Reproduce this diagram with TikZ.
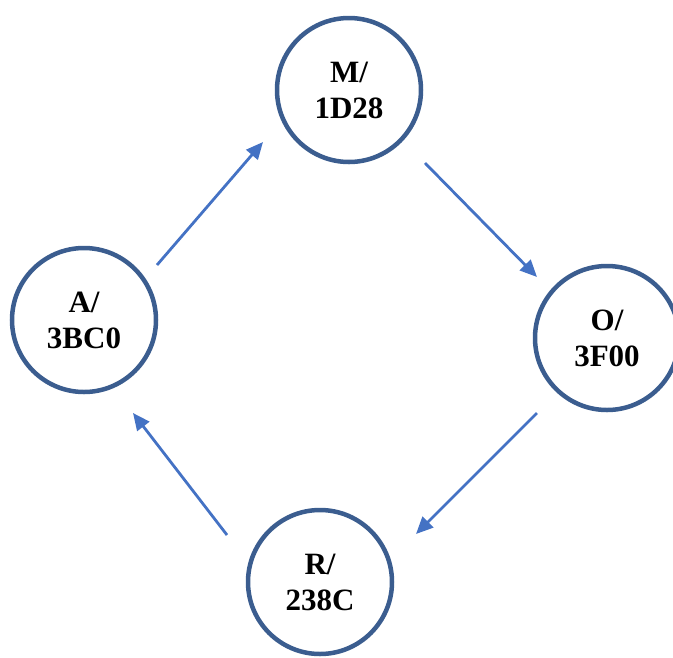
\documentclass[tikz,border=0pt]{standalone}
\usepackage{fontspec}
\setmainfont{Liberation Serif}
\usetikzlibrary{arrows.meta}
\definecolor{ringblue}{RGB}{59,93,143}
\definecolor{arrowblue}{RGB}{68,114,196}
\begin{document}
\begin{tikzpicture}[x=1pt,y=-1pt,
  state/.style={circle, draw=ringblue, line width=4.5pt, minimum size=144pt,
    inner sep=0pt, align=center, font=\fontsize{31}{36}\selectfont\bfseries},
  flow/.style={draw=arrowblue, line width=2.8pt,
    -{Triangle[length=17pt,width=15pt]}}]
  \useasboundingbox (0,0) rectangle (673,657);
  % states
  \node[state] (M) at (349,90)  {M/\\1D28};
  \node[state] (A) at (84,320)  {A/\\3BC0};
  \node[state] (O) at (607,338) {O/\\3F00};
  \node[state] (R) at (320,582) {R/\\238C};
  % cycle A -> M -> O -> R -> A
  \draw[flow] ([shift={(73,-55)}]A.center) -- ([shift={(-86,52)}]M.center);
  \draw[flow] ([shift={(76,73)}]M.center) -- ([shift={(-70,-61)}]O.center);
  \draw[flow] ([shift={(-70,75)}]O.center) -- ([shift={(96,-48)}]R.center);
  \draw[flow] ([shift={(-93,-47)}]R.center) -- ([shift={(49,93)}]A.center);
\end{tikzpicture}
\end{document}
